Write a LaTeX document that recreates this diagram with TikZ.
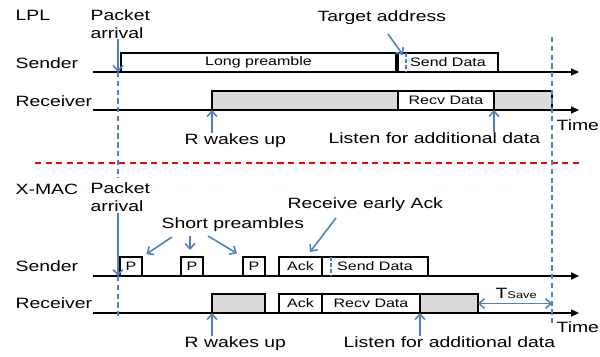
\documentclass[tikz,border=0pt]{standalone}
\usepackage{fontspec}
\setmainfont{Liberation Sans}[FakeStretch=1.3]
\usepackage{tikz}
\usetikzlibrary{arrows.meta}
\usetikzlibrary{positioning}
\definecolor{markblue}{RGB}{79,129,189}
\definecolor{wakegray}{RGB}{217,217,217}

\begin{document}
\begin{tikzpicture}[x=0.02cm,y=-0.02cm,line width=0.7pt,
                    lbl/.style={inner sep=0pt,anchor=base west,font=\fontsize{8.5}{10.2}\selectfont},
                    two line/.style={lbl,anchor=north west,align=left},
                    slot/.style={draw,line width=0.9pt,anchor=south west,inner sep=0pt,outer sep=0pt,
                                 minimum height=0.38cm,font=\fontsize{7}{8}\selectfont},
                    awake/.style={slot,fill=wakegray},
                    timeline/.style={-{Triangle[length=4.5pt,width=4pt]}},
                    pointer/.style={markblue,line width=0.9pt,-{Straight Barb[length=3pt,width=5.5pt]}},
                    span/.style={pointer,{Straight Barb[length=3pt,width=5.5pt]}-{Straight Barb[length=3pt,width=5.5pt]}},
                    mark line/.style={markblue,line width=0.9pt,dash pattern=on 3pt off 2pt}]

\useasboundingbox (0,0) rectangle (600,356);

% ---- LPL ----
\node[lbl] (lpl) at (15,20.5) {LPL};
\node[two line] (pa1) at (90,9) {Packet\\arrival};
\node[lbl] (ta) at (317,21) {Target address};
\node[lbl] (snd1) at (15,68) {Sender};
\node[lbl] (rcv1) at (15,106) {Receiver};
\node[lbl] (time1) at (556,130) {Time};

\coordinate (s1a) at (93,72);
\coordinate (s1b) at (579,72);
\coordinate (r1a) at (93,110);
\coordinate (r1b) at (579,110);
\draw[timeline] (s1a) -- (s1b);
\draw[timeline] (r1a) -- (r1b);

\node[slot, minimum width=5.50cm] (lp) at (121,72) {Long preamble};
\node[slot, minimum width=2.00cm] (sd1) at (398,72) {Send Data};
\node[awake, minimum width=6.80cm] (on1) at (212,110) {};
\node[slot, fill=white, minimum width=1.92cm] (rd1) at (398,110) {Recv Data};

\node[lbl] (rw1) at (184,144) {R wakes up};
\node[lbl] (la1) at (328,143.5) {Listen for additional data};

\coordinate (pk1) at (118,72);
\coordinate (pk1b) at (118,178);
\coordinate (ta0) at (388,34);
\coordinate (ta1) at (403,55);
\draw[mark line] (pk1) -- (pk1b);
\draw[mark line, dash pattern=on 2pt off 1.5pt] (406,53) -- (406,72);

\path
    (pa1.south -| pk1) edge [pointer] (pk1)
    (ta0) edge [pointer] (ta1)
    (rw1.north -| on1.south west) edge [pointer] (on1.south west)
    (la1.north -| rd1.south east) edge [pointer] (rd1.south east)
    ;

% separator
\draw[red, line width=1pt, dash pattern=on 3.5pt off 2.5pt] (35,163) -- (582,163);

% ---- X-MAC ----
\node[lbl] (xmac) at (15,194) {X-MAC};
\node[two line] (pa2) at (90,182.5) {Packet\\arrival};
\node[lbl] (sp) at (161,228) {Short preambles};
\node[lbl] (ea) at (287,208) {Receive early Ack};
\node[lbl] (snd2) at (15,271) {Sender};
\node[lbl] (rcv2) at (15,308) {Receiver};
\node[lbl] (time2) at (556,332) {Time};

\coordinate (s2a) at (93,276);
\coordinate (s2b) at (579,276);
\coordinate (r2a) at (93,313);
\coordinate (r2b) at (579,313);
\draw[timeline] (s2a) -- (s2b);
\draw[timeline] (r2a) -- (r2b);

\node[slot, minimum width=0.44cm] (p1) at (120,276) {P};
\node[slot, minimum width=0.44cm] (p2) at (181,276) {P};
\node[slot, minimum width=0.44cm] (p3) at (243,276) {P};
\node[slot, minimum width=0.86cm] (ack1) at (279,276) {Ack};
\node[slot, minimum width=2.12cm] (sd2) at (322,276) {Send Data};

\node[awake, minimum width=1.06cm] (on2) at (212,313) {};
\node[slot, minimum width=0.86cm] (ack2) at (279,313) {Ack};
\node[slot, minimum width=1.96cm] (rd2) at (322,313) {Recv Data};
\node[awake, minimum width=1.16cm] (on3) at (420,313) {};

\node[lbl] (rw2) at (184,347) {R wakes up};
\node[lbl] (la2) at (343,347) {Listen for additional data};
\node[lbl] (tsave) at (495,298) {T{\fontsize{5.6}{6}\selectfont Save}};

\coordinate (pk2) at (118,276);
\coordinate (pk2b) at (118,318);
\coordinate (endtop) at (552,37);
\coordinate (endbot) at (552,325);
\coordinate (sp1) at (172,237);
\coordinate (sp2) at (190,236);
\coordinate (sp3) at (208,236);
\coordinate (ea0) at (336,218);
\coordinate (ea1) at (310,252);
\draw[mark line] (pk2) -- (pk2b);
\draw[mark line] (endtop) -- (endbot);
\draw[mark line, dash pattern=on 2pt off 1.5pt] (331,257) -- (331,276);

\path
    (pa2.south -| pk2) edge [pointer] (pk2)
    (sp1) edge [pointer, shorten >=3pt] (p1.north east)
    (sp2) edge [pointer, shorten >=4pt] (sp2 |- p2.north)
    (sp3) edge [pointer, shorten >=4pt] (p3.north west)
    (ea0) edge [pointer] (ea1)
    (rw2.north -| on2.south west) edge [pointer] (on2.south west)
    (la2.north -| on3.south west) edge [pointer] (on3.south west)
    (on3.east) edge [span] (on3.east -| endtop)
    ;
\end{tikzpicture}
\end{document}
